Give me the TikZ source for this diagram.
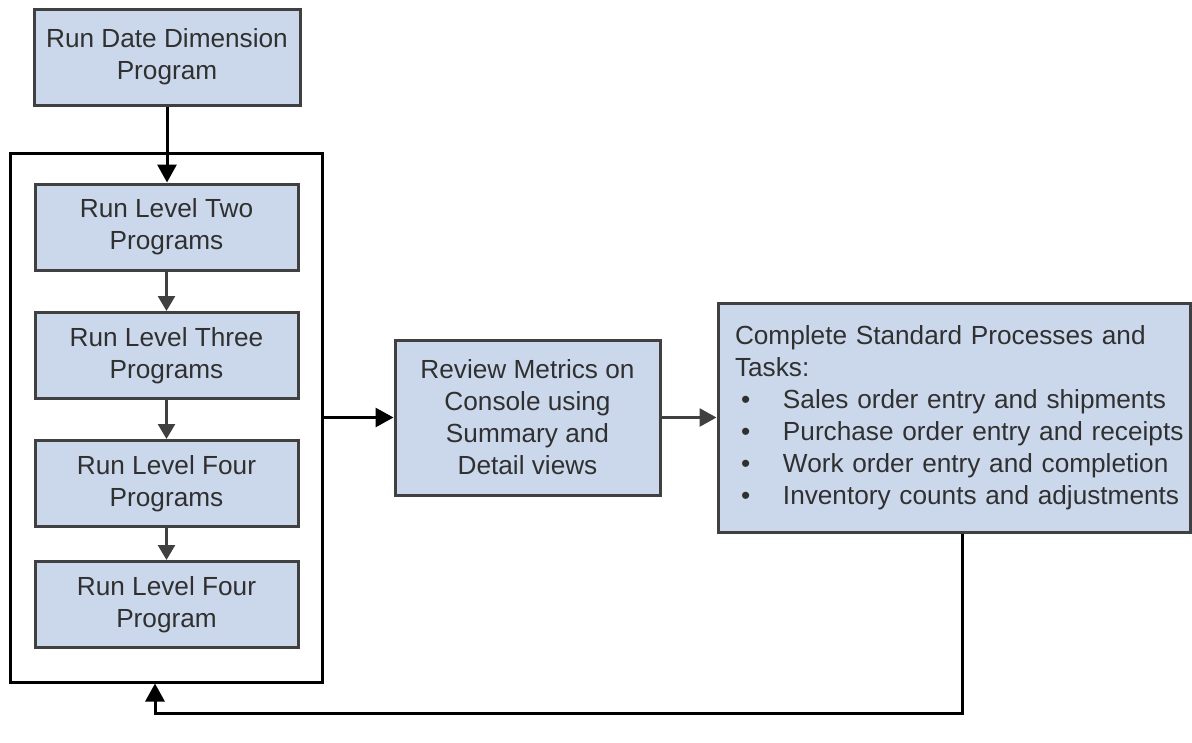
\documentclass[tikz,border=0pt]{standalone}
\usepackage{fontspec}
\setmainfont{Liberation Sans}
\usetikzlibrary{arrows.meta,calc}
\definecolor{boxfill}{HTML}{CBD8EC}
\definecolor{boxline}{HTML}{404040}
\definecolor{txt}{HTML}{303030}
\newcommand{\bul}{\makebox[48pt][l]{\hspace*{6pt}\textbullet}}
\begin{document}
\begin{tikzpicture}[x=1pt,y=-1pt,
  every node/.style={font=\fontsize{26.2}{32}\selectfont, text=txt},
  procbox/.style={draw=boxline, line width=3pt, fill=boxfill, align=center, inner sep=0pt},
  framebox/.style={draw=black, line width=3pt, inner sep=0pt},
  bigarrow/.style={draw=black, line width=3pt, -{Triangle[length=18pt,width=19pt]}},
  smallarrow/.style={draw=boxline, line width=2.6pt, -{Triangle[length=15pt,width=17pt]}},
  midarrow/.style={draw=boxline, line width=2.8pt, -{Triangle[length=17pt,width=18pt]}}
]
\useasboundingbox (0,0) rectangle (1192,742);
\node[procbox, minimum width=266pt, minimum height=96pt] (date) at (167,57) {Run Date Dimension\\Program};
\node[framebox, minimum width=312pt, minimum height=529pt] (frame) at (166,417.5) {};
\node[procbox, minimum width=263pt, minimum height=86pt] (l2) at (166.5,227) {Run Level Two\\Programs};
\node[procbox, minimum width=263pt, minimum height=86pt] (l3) at (166.5,355.5) {Run Level Three\\Programs};
\node[procbox, minimum width=263pt, minimum height=86pt] (l4a) at (166.5,483.5) {Run Level Four\\Programs};
\node[procbox, minimum width=263pt, minimum height=86pt] (l4b) at (166.5,604.5) {Run Level Four\\Program};
\node[procbox, minimum width=265pt, minimum height=155pt] (review) at (527.5,417.5) {Review Metrics on\\Console using\\Summary and\\Detail views};
\node[procbox, minimum width=472pt, minimum height=229pt, align=left, text width=438pt] (complete) at (954,417.5) {\mbox{Complete Standard Processes and}\\\mbox{Tasks:}\\\mbox{\bul Sales order entry and shipments}\\\mbox{\bul Purchase order entry and receipts}\\\mbox{\bul Work order entry and completion}\\\mbox{\bul Inventory counts and adjustments}};
\draw[bigarrow] (date.south) -- (date.south |- l2.north);
\draw[smallarrow] (l2.south) -- (l3.north);
\draw[smallarrow] (l3.south) -- (l4a.north);
\draw[smallarrow] (l4a.south) -- (l4b.north);
\draw[bigarrow] (frame.east) -- (review.west);
\draw[midarrow] (review.east) -- (complete.west);
\coordinate (fbr) at (962,713);
\coordinate (fbl) at (155,713);
\draw[bigarrow] (fbr |- complete.south) -- (fbr) -- (fbl) -- (fbl |- frame.south);
\end{tikzpicture}
\end{document}
